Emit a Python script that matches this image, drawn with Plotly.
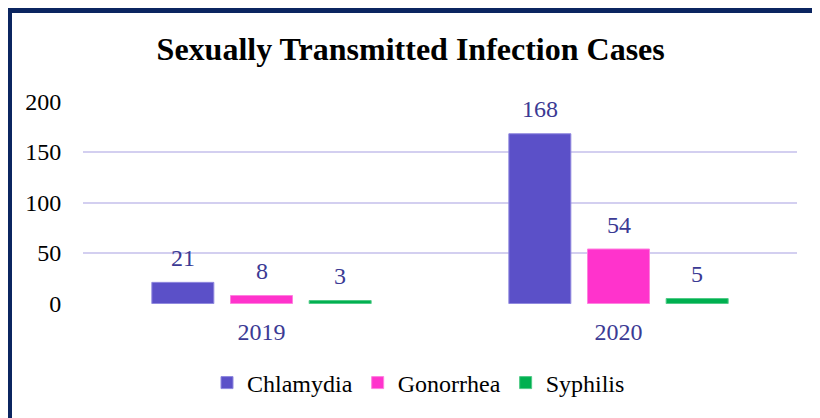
import plotly.graph_objects as go

years = ["2019", "2020"]
series_names = ["Chlamydia", "Gonorrhea", "Syphilis"]
chlamydia = [21, 168]
gonorrhea = [8, 54]
syphilis = [3, 5]
y_ticks = [0, 50, 100, 150, 200]

colors = ["#5b50c8", "#ff33cc", "#00b050"]
edge_colors = ["#8f87de", "#ff80df", "#4fcb86"]
label_color = "#3b3a94"
grid_color = "#d3cff0"
font_family = "Liberation Serif, Times New Roman, serif"

values = [chlamydia, gonorrhea, syphilis]

fig = go.Figure()
for name, vals, col, ecol in zip(series_names, values, colors, edge_colors):
    fig.add_trace(go.Bar(
        name=name, x=years, y=vals,
        marker=dict(color=col, line=dict(color=ecol, width=1)),
    ))

# data labels above bars (x given as category index)
offsets = [-78.7, 0, 78.7]
for vals, off in zip(values, offsets):
    for i, v in enumerate(vals):
        fig.add_annotation(x=i, y=v, xref="x", yref="y", text=str(v), showarrow=False,
                           xshift=off, yshift=24.5,
                           font=dict(family=font_family, size=24, color=label_color))

W, H = 820, 418
ml, mr, mt, mb = 75, 31, 93, 122
pw, ph = W - ml - mr, H - mt - mb

def px(x):
    return (x - ml) / pw

def py(y):
    return 1 - (y - mt) / ph

# outer navy frame (partly off-page at right and bottom)
fig.add_shape(type="rect", xref="paper", yref="paper",
              x0=px(1.5), x1=px(860), y0=py(2.5), y1=py(460),
              line=dict(color="#0b2560", width=5), fillcolor="rgba(0,0,0,0)", layer="above")

fig.update_layout(
    template="none",
    width=W, height=H,
    margin=dict(l=ml, r=mr, t=mt, b=mb, autoexpand=False),
    paper_bgcolor="white", plot_bgcolor="white",
    barmode="group", bargap=0.339, bargroupgap=0.212,
    title=dict(text="<b>Sexually Transmitted Infection Cases</b>",
               x=402.7 / W, xref="container", xanchor="center",
               y=1 - 41 / H, yref="container", yanchor="middle",
               font=dict(family=font_family, size=32, color="black")),
    font=dict(family=font_family, size=24, color="black"),
    legend=dict(orientation="h", x=px(410.5), xanchor="center",
                y=py(375), yanchor="middle",
                font=dict(family=font_family, size=24, color="black"),
                traceorder="normal", bgcolor="rgba(0,0,0,0)"),
    showlegend=True,
)
fig.update_xaxes(type="category", range=[-0.5, 1.5], showgrid=False, showline=False,
                 zeroline=False,
                 ticks="outside", ticklen=6, tickcolor="rgba(0,0,0,0)",
                 tickfont=dict(family=font_family, size=24, color=label_color))
fig.update_yaxes(range=[-0.4, 200.4], tickvals=y_ticks, showgrid=True,
                 gridcolor=grid_color, gridwidth=2,
                 zeroline=False, showline=False,
                 ticks="outside", ticklen=16, tickcolor="rgba(0,0,0,0)",
                 tickfont=dict(family=font_family, size=24, color="black"))

fig.write_html("out.html")
